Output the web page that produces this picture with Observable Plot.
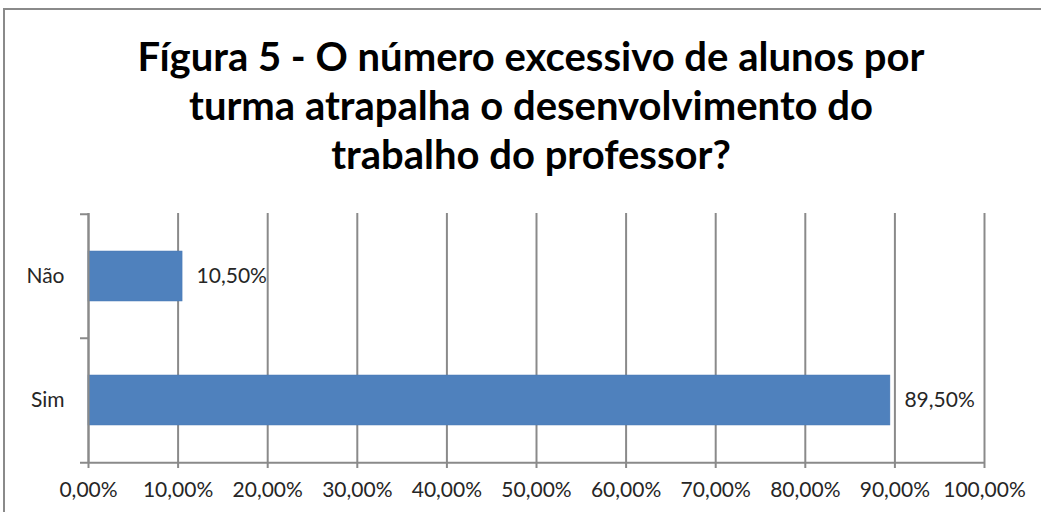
<!DOCTYPE html>
<html>
<head>
<meta charset="utf-8">
<script src="https://cdn.jsdelivr.net/npm/d3@7"></script>
<script src="https://cdn.jsdelivr.net/npm/@observablehq/plot@0.6"></script>
<style>
  html, body { margin: 0; padding: 0; background: #fff; width: 1041px; height: 512px; overflow: hidden; }
  #frame { position: absolute; left: 3px; top: 8px; width: 1100px; height: 600px; border-top: 2px solid #8a8a8a; border-left: 2px solid #8a8a8a; }
  #title { position: absolute; left: 0; top: 0; width: 1062px; text-align: center; font-family: Lato, "Open Sans", sans-serif; font-weight: bold; font-size: 40px; line-height: 49px; color: #000; }
  #title div { position: absolute; left: 0; width: 100%; white-space: nowrap; }
  #chart { position: absolute; left: 0; top: 0; }
</style>
</head>
<body>
<div id="frame"></div>
<div id="title"></div>
<div id="chart"></div>
<script>
const titleLines = ["Fígura 5 - O número excessivo de alunos por", "turma atrapalha o desenvolvimento do", "trabalho do professor?"];
const categories = ["Não", "Sim"];
const values = [0.105, 0.895];
const valueLabels = ["10,50%", "89,50%"];
const xTicks = [0, 0.1, 0.2, 0.3, 0.4, 0.5, 0.6, 0.7, 0.8, 0.9, 1.0];
const xTickLabels = ["0,00%", "10,00%", "20,00%", "30,00%", "40,00%", "50,00%", "60,00%", "70,00%", "80,00%", "90,00%", "100,00%"];

const titleEl = document.getElementById("title");
titleLines.forEach((t, i) => {
  const d = document.createElement("div");
  d.textContent = t;
  d.style.top = (32 + i * 49) + "px";
  titleEl.appendChild(d);
});

const data = categories.map((c, i) => ({cat: c, value: values[i], label: valueLabels[i]}));

const W = 1041, H = 512;
const mTop = 213, mBottom = 50, mLeft = 88, mRight = 57;
const halfStep = (H - mTop - mBottom) / categories.length / 2;
const grid = "#8a8a8a";
const textColor = "#262626";
const font = "Lato, 'Open Sans', sans-serif";

const chart = Plot.plot({
  width: W,
  height: H,
  marginTop: mTop,
  marginBottom: mBottom,
  marginLeft: mLeft,
  marginRight: mRight,
  style: {fontFamily: font, fontSize: "21px", color: textColor, background: "transparent", overflow: "visible"},
  x: {domain: [0, 1]},
  y: {domain: categories, paddingInner: 0.598, paddingOuter: 0.299, align: 0.5},
  marks: [
    Plot.ruleX(xTicks, {stroke: grid, strokeWidth: 2}),
    Plot.barX(data, {x: "value", y: "cat", fill: "#4f81bd", stroke: "#4a7ab5", strokeWidth: 0.5}),
    Plot.text(data, {x: "value", y: "cat", text: "label", textAnchor: "start", dx: 14, fill: textColor, fontSize: 21}),
    // y axis line
    Plot.ruleX([0], {stroke: grid, strokeWidth: 2}),
    // baseline extended to left tick
    Plot.ruleY([categories[categories.length - 1]], {dy: halfStep, stroke: grid, strokeWidth: 2, insetLeft: -8}),
    // y boundary ticks
    Plot.axisY({tickSize: 8, tickFormat: () => "", dy: -halfStep, stroke: grid, strokeWidth: 2, strokeOpacity: 1, label: null}),
    // y labels
    Plot.axisY({tickSize: 0, tickPadding: 24, fontSize: 21, fill: textColor, label: null}),
    Plot.axisX(xTicks, {tickSize: 6, tickPadding: 14, tickFormat: (d) => xTickLabels[xTicks.indexOf(d)], stroke: grid, strokeWidth: 2, strokeOpacity: 1, fontSize: 21, fill: textColor, label: null})
  ]
});
document.getElementById("chart").appendChild(chart);
</script>
</body>
</html>
